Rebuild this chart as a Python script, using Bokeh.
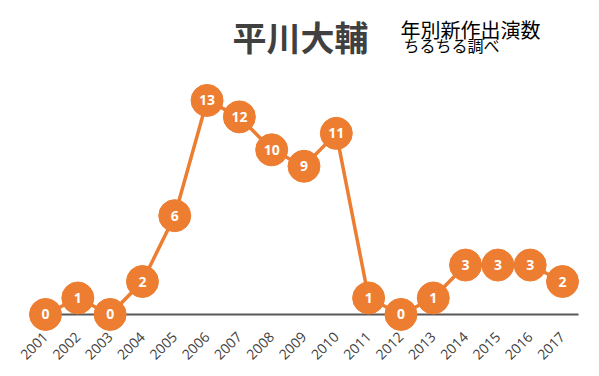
from bokeh.plotting import figure
from bokeh.models import ColumnDataSource, Range1d, Label, FixedTicker
from bokeh.core.properties import value
from bokeh.embed import file_html
from bokeh.resources import INLINE

years = list(range(2001, 2018))
counts = [0, 1, 0, 2, 6, 13, 12, 10, 9, 11, 1, 0, 1, 3, 3, 3, 2]
tick_labels = [str(y) for y in years]
title_text = "平川大輔"
subtitle1 = "年別新作出演数"
subtitle2 = "ちるちる調べ"

ORANGE = "#ED7D31"

src = ColumnDataSource(dict(x=years, y=counts, lbl=[str(c) for c in counts]))

p = figure(width=599, height=376, output_backend="svg", toolbar_location=None,
           x_range=Range1d(1999.607, 2018.145), y_range=Range1d(-3.77, 19.07),
           min_border=0, min_border_left=0, min_border_right=0,
           min_border_top=0, min_border_bottom=0)
p.outline_line_color = None
p.grid.visible = False
p.yaxis.visible = False

ax = p.xaxis[0]
ax.fixed_location = 0
ax.level = "underlay"
ax.bounds = (years[0] - 0.5, years[-1] + 0.5)
ax.ticker = FixedTicker(ticks=years)
ax.major_label_overrides = {y: l for y, l in zip(years, tick_labels)}
ax.major_label_orientation = 0.785398
ax.axis_line_color = "#595959"
ax.axis_line_width = 2
ax.major_tick_line_color = None
ax.minor_tick_line_color = None
ax.major_label_text_font = "Open Sans"
ax.major_label_text_font_size = "14px"
ax.major_label_text_color = "#404040"
ax.major_label_standoff = 14

p.line("x", "y", source=src, line_color=ORANGE, line_width=3.5)
p.scatter("x", "y", source=src, size=32, fill_color=ORANGE, line_color=ORANGE)
p.text("x", "y", text="lbl", source=src, text_color="white", text_align="center",
       text_baseline="middle", text_font=value("Open Sans"), text_font_style="bold",
       text_font_size="14px")

p.add_layout(Label(x=300, y=376 - 36, x_units="screen", y_units="screen", text=title_text,
                   text_font="Noto Sans CJK JP", text_font_style="bold", text_font_size="34px",
                   text_color="#404040", text_align="center", text_baseline="middle"))
p.add_layout(Label(x=400, y=376 - 29, x_units="screen", y_units="screen", text=subtitle1,
                   text_font="Noto Sans CJK JP", text_font_size="20px",
                   text_color="#000000", text_align="left", text_baseline="middle"))
p.add_layout(Label(x=403, y=376 - 44, x_units="screen", y_units="screen", text=subtitle2,
                   text_font="Noto Sans CJK JP", text_font_size="16px",
                   text_color="#000000", text_align="left", text_baseline="middle"))

open("out.html", "w").write(file_html(p, INLINE))
